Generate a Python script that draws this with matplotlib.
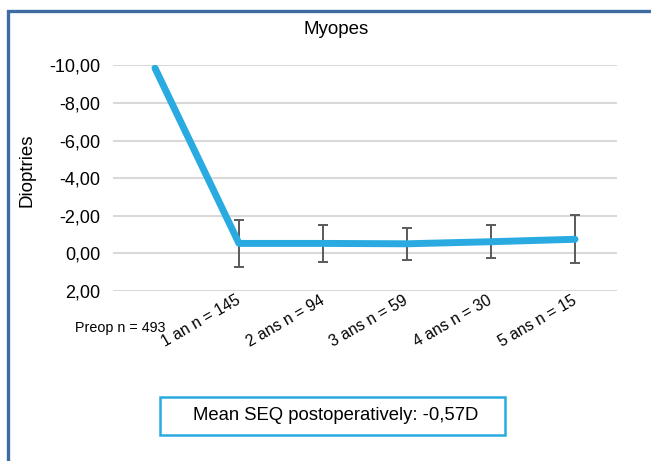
import matplotlib.pyplot as plt
from matplotlib.patches import Rectangle

plt.rcParams['font.family'] = ['Liberation Sans', 'DejaVu Sans']

categories = ['Preop n = 493', '1 an n = 145', '2 ans n = 94', '3 ans n = 59',
              '4 ans n = 30', '5 ans n = 15']
seq = [-9.85, -0.53, -0.53, -0.51, -0.62, -0.75]
err = [0, 1.24, 1.0, 0.85, 0.88, 1.27]
yticks = [-10, -8, -6, -4, -2, 0, 2]

fig = plt.figure(figsize=(6.51, 4.61), dpi=100)

# outer frame
fig.patches.append(Rectangle((7.5 / 651, -0.1), 1.2, 1 - 11.5 / 461 + 0.1,
                             transform=fig.transFigure, fill=False,
                             edgecolor='#3e6ba1', linewidth=2.4))

ax = fig.add_axes([113 / 651, 1 - 291 / 461, 504 / 651, (291 - 65.3) / 461])
x = list(range(len(categories)))

for t in yticks:
    ax.axhline(t, color='#d9d9d9', linewidth=1.5, zorder=0)

ax.errorbar(x[1:], seq[1:], yerr=err[1:], fmt='none', ecolor='#5a5a5a',
            elinewidth=1.4, capsize=3.5, capthick=1.4, zorder=2)
ax.plot(x, seq, color='#29abe2', linewidth=5, solid_capstyle='round',
        solid_joinstyle='round', zorder=3)

ax.set_xlim(-0.5, 5.5)
ax.set_ylim(2, -10)
ax.set_yticks(yticks)
ax.set_yticklabels([('%.2f' % t).replace('.', ',') for t in yticks], fontsize=13)
ax.tick_params(axis='y', length=0, pad=9)
ax.set_xticks([])
for s in ax.spines.values():
    s.set_visible(False)

fig.text(27 / 651, 1 - 170 / 461, 'Dioptries', rotation=90, ha='center',
         va='center', fontsize=13.5)
fig.text(336 / 651, 1 - 30 / 461, 'Myopes', ha='center', va='center',
         fontsize=13.5)

# x labels
ax.text(-0.41, 3.95, categories[0], ha='center', va='center', fontsize=10.3)
for i in range(1, len(categories)):
    ax.text(i, 2.45, categories[i], ha='right', va='center', rotation=30,
            rotation_mode='anchor', fontsize=11.3, clip_on=False)

# annotation box
fig.patches.append(Rectangle((160 / 651, 1 - 435 / 461), 345 / 651, 38 / 461,
                             transform=fig.transFigure, fill=False,
                             edgecolor='#29abe2', linewidth=1.8))
fig.text(336 / 651, 1 - 415 / 461, 'Mean SEQ postoperatively: -0,57D',
         ha='center', va='center', fontsize=13.3)

fig.savefig('out.png', dpi=100)
